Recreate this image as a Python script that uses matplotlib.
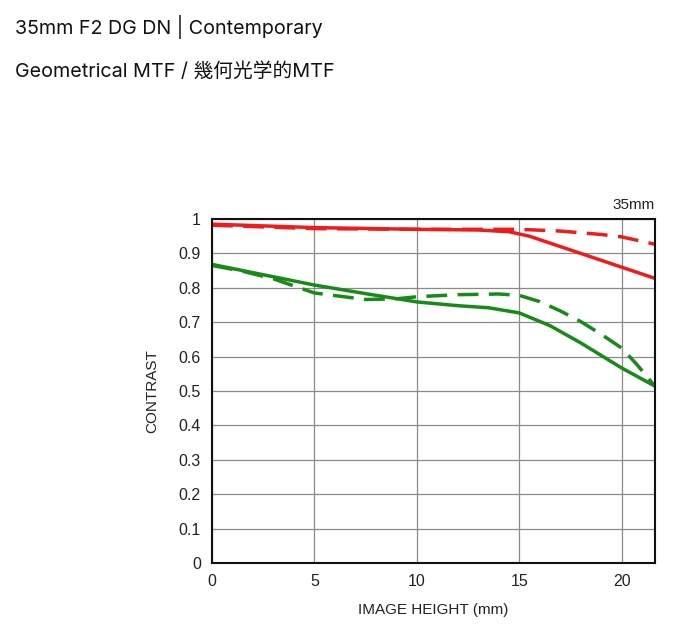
import matplotlib
matplotlib.use("Agg")
import matplotlib.pyplot as plt
import numpy as np

# data
red_solid_x = [0, 5, 10, 13, 14.5, 15.5, 17, 19, 20, 21.6]
red_solid_y = [0.985, 0.975, 0.970, 0.968, 0.963, 0.950, 0.920, 0.880, 0.860, 0.828]
red_dash_x = [0, 5, 10, 15, 17, 19, 20, 21, 21.6]
red_dash_y = [0.982, 0.972, 0.970, 0.970, 0.965, 0.955, 0.948, 0.935, 0.927]
green_solid_x = [0, 2.5, 5, 7.5, 10, 12, 13.5, 15, 16.5, 18, 20, 21.6]
green_solid_y = [0.868, 0.838, 0.808, 0.783, 0.759, 0.748, 0.742, 0.727, 0.690, 0.640, 0.567, 0.515]
green_dash_x = [0, 1.5, 3, 5, 7.5, 9, 10, 12, 14, 15, 16, 17, 18, 19, 20, 20.7, 21.2, 21.6]
green_dash_y = [0.865, 0.848, 0.826, 0.785, 0.766, 0.768, 0.774, 0.780, 0.782, 0.778, 0.760, 0.733, 0.702, 0.665, 0.625, 0.580, 0.545, 0.515]

x_ticks = [0, 5, 10, 15, 20]
y_ticks = [0, 0.1, 0.2, 0.3, 0.4, 0.5, 0.6, 0.7, 0.8, 0.9, 1]
y_tick_labels = ["0", "0.1", "0.2", "0.3", "0.4", "0.5", "0.6", "0.7", "0.8", "0.9", "1"]

title1 = "35mm F2 DG DN | Contemporary"
title2 = "Geometrical MTF / 幾何光学的MTF"

plt.rcParams['font.family'] = ['Inter', 'Noto Sans CJK JP', 'DejaVu Sans']

fig = plt.figure(figsize=(6.8, 6.41), dpi=100)
ax = fig.add_axes([212/680, 1-563/641, (655-212)/680, (563-219)/641])

red = "#ee1c1c"
green = "#188a18"
lw = 2.5
ax.plot(red_solid_x, red_solid_y, color=red, lw=lw)
ax.plot(red_dash_x, red_dash_y, color=red, lw=lw, dashes=(6, 3))
ax.plot(green_solid_x, green_solid_y, color=green, lw=lw)
ax.plot(green_dash_x, green_dash_y, color=green, lw=lw, dashes=(6, 3))

ax.set_xlim(0, 21.63)
ax.set_ylim(0, 1)
ax.set_xticks(x_ticks)
ax.set_yticks(y_ticks)
ax.set_yticklabels(y_tick_labels)
ax.grid(True, color="#8a8a8a", lw=0.9)
ax.tick_params(length=0, labelsize=11.5, colors="#222222", pad=8)
for s in ax.spines.values():
    s.set_linewidth(1.5)
    s.set_color("#111111")

lab_font = ['Liberation Sans', 'DejaVu Sans']
for t in ax.get_xticklabels() + ax.get_yticklabels():
    t.set_family(lab_font)
ax.set_xlabel("IMAGE HEIGHT (mm)", fontsize=11, family=lab_font, labelpad=10, color="#222222")
ax.set_ylabel("CONTRAST", fontsize=11, family=lab_font, labelpad=14, color="#222222")
ax.text(1.0, 1.02, "35mm", transform=ax.transAxes, ha='right', va='bottom',
        fontsize=11, family=lab_font, color="#222222")

fig.text(15/680, 1-27/641, title1, fontsize=14.2, va='center', ha='left', color="#111111")
fig.text(15/680, 1-72/641, title2, fontsize=14.2, va='center', ha='left', color="#111111")

fig.savefig("out.png", dpi=100)
